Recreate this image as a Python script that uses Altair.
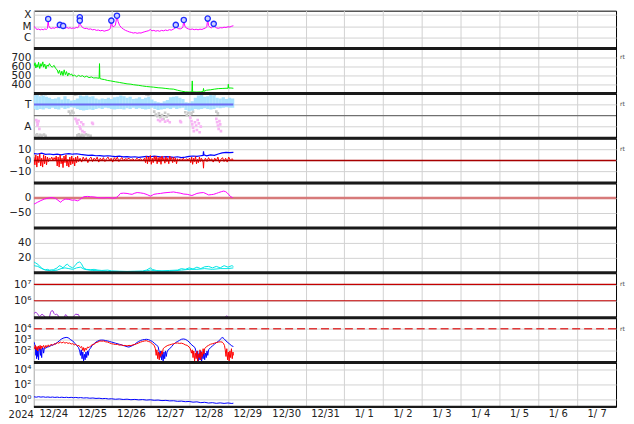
import altair as alt
import pandas as pd

W, H, H1 = 584, 44.5, 38
FONT = "DejaVu Sans"

day_labels = ["12/24", "12/25", "12/26", "12/27", "12/28", "12/29", "12/30", "12/31",
              "1/ 1", "1/ 2", "1/ 3", "1/ 4", "1/ 5", "1/ 6", "1/ 7"]
year_label = "2024"

# ---- panel 1: X-ray flux (log10 W/m2), time in days from 12/24 00:00
xray = [(0.00,-5.00),(0.02,-5.10),(0.05,-5.22),(0.08,-5.30),(0.12,-5.26),(0.16,-5.34),(0.20,-5.28),(0.24,-5.33),
        (0.28,-5.25),(0.32,-5.30),(0.35,-5.20),(0.368,-4.40),(0.38,-4.95),(0.41,-5.15),(0.45,-5.22),(0.49,-5.15),
        (0.53,-5.20),(0.57,-5.10),(0.61,-5.14),(0.64,-5.05),(0.668,-4.93),(0.69,-5.08),(0.72,-5.12),(0.753,-5.00),
        (0.77,-5.12),(0.81,-5.18),(0.85,-5.12),(0.89,-5.20),(0.93,-5.14),(0.97,-5.22),(1.01,-5.16),(1.05,-5.20),
        (1.09,-5.12),(1.13,-5.15),(1.16,-5.00),(1.182,-4.24),(1.20,-4.85),(1.23,-5.05),(1.27,-5.15),(1.31,-5.22),
        (1.36,-5.20),(1.41,-5.28),(1.46,-5.25),(1.51,-5.33),(1.56,-5.30),(1.61,-5.38),(1.66,-5.35),(1.71,-5.42),
        (1.76,-5.38),(1.81,-5.45),(1.86,-5.40),(1.91,-5.36),(1.95,-5.30),(1.975,-5.15),(1.995,-4.53),(2.02,-5.00),
        (2.06,-5.05),(2.10,-4.90),(2.14,-4.09),(2.17,-4.60),(2.21,-4.95),(2.26,-5.15),(2.31,-5.28),(2.36,-5.38),
        (2.41,-5.45),(2.46,-5.52),(2.51,-5.56),(2.56,-5.62),(2.61,-5.58),(2.66,-5.64),(2.71,-5.60),(2.76,-5.62),
        (2.81,-5.55),(2.86,-5.50),(2.91,-5.45),(2.96,-5.40),(3.00,-5.30),(3.04,-5.42),(3.09,-5.38),(3.14,-5.45),
        (3.19,-5.40),(3.24,-5.46),(3.29,-5.38),(3.34,-5.42),(3.39,-5.35),(3.44,-5.40),(3.49,-5.32),(3.54,-5.36),
        (3.59,-5.28),(3.63,-5.20),(3.656,-4.91),(3.68,-5.12),(3.72,-5.22),(3.77,-5.25),(3.81,-5.20),(3.84,-5.05),
        (3.862,-4.47),(3.89,-5.00),(3.93,-5.18),(3.98,-5.25),(4.03,-5.30),(4.08,-5.26),(4.13,-5.32),(4.18,-5.28),
        (4.23,-5.33),(4.28,-5.27),(4.33,-5.30),(4.38,-5.22),(4.42,-5.18),(4.455,-5.05),(4.478,-4.35),(4.50,-4.95),
        (4.54,-5.12),(4.58,-5.15),(4.61,-5.05),(4.633,-4.82),(4.66,-5.05),(4.70,-5.15),(4.75,-5.20),(4.80,-5.14),
        (4.85,-5.16),(4.90,-5.10),(4.95,-5.12),(5.00,-5.06),(5.05,-5.08),(5.10,-5.00),(5.14,-4.97)]
flares = [(0.368,-4.36),(0.668,-4.89),(0.753,-4.98),(1.182,-4.22),(1.182,-4.51),(1.995,-4.51),
          (2.14,-4.07),(3.656,-4.89),(3.862,-4.45),(4.478,-4.33),(4.633,-4.80)]

# ---- panel 2: solar wind speed (km/s)
speed = [(0.00,600),(0.03,640),(0.05,580),(0.08,620),(0.10,590),(0.12,645),(0.15,575),(0.18,630),(0.20,600),
         (0.23,650),(0.25,590),(0.28,625),(0.31,570),(0.34,615),(0.37,600),(0.40,630),(0.43,605),(0.47,590),
         (0.52,610),(0.56,575),(0.60,560),(0.63,520),(0.66,555),(0.69,500),(0.72,545),(0.75,495),(0.78,560),
         (0.81,505),(0.84,540),(0.87,490),(0.90,525),(0.94,500),(0.97,515),(1.00,490),(1.05,500),(1.10,482),
         (1.15,498),(1.20,486),(1.25,494),(1.30,478),(1.36,488),(1.42,472),(1.48,480),(1.54,468),(1.60,470),
         (1.68,465),(1.69,630),(1.70,462),(1.75,455),(1.82,450),(1.90,440),(1.98,435),(2.10,425),(2.20,418),
         (2.30,410),(2.40,402),(2.50,398),(2.57,392),(2.70,385),(2.80,378),(2.90,372),(3.00,368),(3.08,365),
         (3.20,358),(3.30,355),(3.40,350),(3.50,345),(3.60,342),(3.70,330),(3.80,320),(3.90,312),(4.00,310),
         (4.07,312),(4.08,435),(4.09,312),(4.20,310),(4.30,312),(4.36,315),(4.37,350),(4.38,318),(4.45,330),
         (4.55,335),(4.65,342),(4.75,348),(4.85,350),(4.95,352),(5.00,352),(5.01,397),(5.02,355),(5.08,355),
         (5.14,352)]

# ---- panel 3: IMF sector (T=3, A=1): cyan band (t, lo, hi), gray and pink samples
sector_band = [(0.00,2.6,3.8),(0.08,2.5,3.85),(0.16,2.6,3.75),(0.24,2.55,3.8),(0.32,2.65,3.7),(0.40,2.6,3.6),
               (0.48,2.7,3.5),(0.56,2.6,3.55),(0.64,2.55,3.65),(0.72,2.7,3.45),(0.80,2.6,3.75),(0.88,2.65,3.5),
               (0.96,2.75,3.35),(1.04,2.7,3.4),(1.12,2.6,3.55),(1.20,2.5,3.8),(1.28,2.45,3.75),(1.36,2.5,3.8),
               (1.44,2.55,3.7),(1.52,2.5,3.75),(1.60,2.6,3.55),(1.68,2.65,3.45),(1.76,2.6,3.55),(1.84,2.7,3.5),
               (1.92,2.65,3.6),(2.00,2.6,3.5),(2.08,2.55,3.65),(2.16,2.6,3.7),(2.24,2.6,3.8),(2.32,2.55,3.75),
               (2.40,2.65,3.6),(2.48,2.6,3.7),(2.56,2.7,3.5),(2.64,2.6,3.55),(2.72,2.65,3.65),(2.80,2.6,3.5),
               (2.88,2.55,3.6),(2.96,2.6,3.7),(3.04,2.7,3.45),(3.12,2.6,3.3),(3.20,2.5,3.2),(3.28,2.55,3.15),
               (3.36,2.6,3.3),(3.44,2.65,3.4),(3.52,2.6,3.65),(3.60,2.7,3.7),(3.68,2.6,3.75),(3.76,2.65,3.6),
               (3.84,2.7,3.5),(3.92,2.5,3.2),(4.00,2.4,3.15),(4.08,2.45,3.3),(4.16,2.6,3.6),(4.24,2.55,3.8),
               (4.32,2.6,3.85),(4.40,2.65,3.7),(4.48,2.6,3.75),(4.56,2.55,3.9),(4.64,2.6,3.8),(4.72,2.7,3.6),
               (4.80,2.65,3.55),(4.88,2.7,3.65),(4.96,2.75,3.5),(5.04,2.7,3.6),(5.12,2.7,3.55)]
sector_gray = [(0.04,0.22),(0.08,0.3),(0.12,0.18),(0.16,0.26),(0.2,0.2),(0.26,0.28),(0.3,0.18),(1.12,0.22),
               (1.16,0.3),(1.2,0.18),(1.24,0.26),(1.28,0.2),(1.34,0.3),(1.4,0.24),(1.46,0.18),(0.02,3.85),
               (0.1,3.9),(0.2,3.88),(0.3,3.92),(0.9,2.35),(0.94,2.2),(0.98,2.4),(1.02,2.25),(1.06,3.88),
               (1.1,3.92),(2.9,3.9),(2.95,3.86),(3.1,2.35),(3.14,2.1),(3.18,1.95),(3.22,2.2),(3.26,1.85),
               (3.3,2.05),(3.34,1.7),(3.38,2.25),(3.42,1.9),(3.46,2.1),(3.9,2.3),(3.94,2.05),(3.98,2.25),
               (4.02,1.95),(4.06,2.2),(4.1,2.35),(4.62,3.95),(4.66,3.9),(4.7,2.35),(4.74,2.2)]
sector_pink = [(0.06,1.6),(0.08,1.4),(0.1,1.25),(0.12,1.5),(0.09,1.1),(0.14,0.8),(1.07,1.7),(1.1,1.5),
               (1.12,1.3),(1.15,1.6),(1.18,1.0),(1.2,0.8),(1.22,1.4),(1.25,0.6),(1.27,1.2),(1.3,0.5),
               (1.5,1.35),(1.52,1.25),(3.2,1.6),(3.25,1.5),(3.3,1.65),(3.38,1.45),(3.45,1.55),(3.5,1.4),
               (3.77,1.5),(3.79,1.4),(4.03,1.8),(4.06,1.5),(4.08,1.2),(4.1,0.9),(4.12,0.6),(4.15,1.4),
               (4.18,1.1),(4.2,0.7),(4.22,1.6),(4.25,1.3),(4.27,0.5),(4.3,1.0),(4.7,1.7),(4.72,1.4),
               (4.74,1.1),(4.76,0.8),(4.78,1.5),(4.8,1.2),(4.82,0.6)]
sector_toward = [(0.0,3.0),(5.14,3.0)]

# ---- panel 4: IMF Bt (blue) and Bz (red), nT
bt = [(0.0,6.2),(0.1,5.8),(0.2,6.5),(0.3,5.5),(0.4,5.8),(0.5,5.2),(0.6,5.6),(0.7,5.0),(0.8,5.8),(0.9,6.2),
      (1.0,5.6),(1.1,6.0),(1.2,5.4),(1.3,5.0),(1.4,4.6),(1.5,4.8),(1.6,4.2),(1.7,4.4),(1.8,3.9),(1.9,4.2),
      (2.0,3.8),(2.1,3.5),(2.2,3.8),(2.3,3.2),(2.4,3.4),(2.5,3.0),(2.6,3.3),(2.7,2.8),(2.8,3.2),(2.9,3.6),
      (3.0,3.3),(3.1,3.8),(3.2,3.4),(3.3,3.0),(3.4,3.5),(3.5,3.2),(3.6,2.8),(3.7,3.3),(3.8,2.6),(3.9,3.0),
      (4.0,3.6),(4.1,4.0),(4.2,3.6),(4.3,4.2),(4.36,4.5),(4.37,8.2),(4.38,5.0),(4.45,4.2),(4.55,5.0),
      (4.65,4.6),(4.75,5.8),(4.85,6.8),(4.95,7.2),(5.05,7.0),(5.14,7.3)]
bz = [(0.000,3),(0.025,-4),(0.050,5),(0.075,-6),(0.100,4),(0.125,-2),(0.150,6),(0.175,-5),(0.200,2),
      (0.225,-6),(0.250,5),(0.275,-3),(0.300,4),(0.325,-4),(0.350,3),(0.375,-1),(0.400,2),(0.43,1),(0.46,3),
      (0.49,0),(0.52,2.5),(0.55,0.5),(0.575,4),(0.60,-5),(0.625,3),(0.65,-6),(0.675,5),(0.70,-3),(0.725,2),
      (0.75,-6.5),(0.775,4),(0.80,-2),(0.825,5),(0.85,-5),(0.875,1),(0.90,-6),(0.925,3),(0.95,-4),(0.975,4),
      (1.00,-3),(1.025,2),(1.05,-5),(1.075,3),(1.10,-2),(1.125,4),(1.15,-1),(1.19,2),(1.23,-1.5),(1.27,3),
      (1.31,0),(1.35,2.5),(1.39,-2),(1.43,1.5),(1.47,3),(1.51,-1),(1.55,2),(1.59,0.5),(1.63,3),(1.67,-1.5),
      (1.71,2),(1.75,0),(1.79,2.5),(1.83,-1),(1.87,1.5),(1.91,3),(1.95,0),(1.99,2),(2.03,-1.5),(2.07,2.5),
      (2.11,0.5),(2.15,3),(2.19,-1),(2.23,1.5),(2.27,2.5),(2.31,-0.5),(2.35,1.5),(2.40,1),(2.45,2),(2.50,0),
      (2.55,1.5),(2.60,-0.5),(2.65,2),(2.70,0.5),(2.75,1.5),(2.80,-0.5),(2.85,2),(2.875,-2),(2.90,4),
      (2.925,-3),(2.95,3),(2.975,-1),(3.00,4.5),(3.025,-3.5),(3.05,2),(3.075,-2),(3.10,3.5),(3.125,0),
      (3.15,4),(3.175,-3),(3.20,2.5),(3.225,-1.5),(3.25,3),(3.275,-3.5),(3.30,4),(3.325,0),(3.35,2),
      (3.375,-2.5),(3.40,3.5),(3.425,-1),(3.45,2),(3.475,-3),(3.50,4),(3.525,0.5),(3.55,2.5),(3.575,-2),
      (3.60,3),(3.625,-1),(3.65,2),(3.675,-3),(3.70,1.5),(3.725,0),(3.77,1.5),(3.81,0),(3.85,2),(3.89,-0.5),
      (3.93,1.5),(3.97,0.5),(4.01,2),(4.04,-2),(4.065,3),(4.09,-3.5),(4.115,2),(4.14,-1),(4.165,3.5),
      (4.19,-3),(4.215,1),(4.24,-2),(4.265,3),(4.29,-1),(4.315,2),(4.34,0.5),(4.36,-2),(4.37,-7),(4.38,-1),
      (4.42,2),(4.46,-1),(4.50,2.5),(4.54,0),(4.58,1.5),(4.62,-1.5),(4.66,2),(4.70,-0.5),(4.74,3),(4.78,-2),
      (4.82,1),(4.86,2.5),(4.90,-1),(4.94,2),(4.98,-1.5),(5.02,3),(5.06,0),(5.10,1.5),(5.14,0.5)]

# ---- panel 5: Dst (nT)
dst = [(0.00,-21),(0.05,-18),(0.09,-15),(0.18,-9),(0.27,-4),(0.36,-1),(0.44,1),(0.50,0),(0.56,-2),(0.62,-8),
       (0.69,-15),(0.73,-9),(0.78,-6),(0.82,-4),(0.90,-5),(0.99,-8),(1.05,-7),(1.12,-10),(1.17,-7),(1.21,-3),
       (1.29,4),(1.38,5),(1.46,4),(1.55,3),(1.64,1),(1.72,0),(1.81,0),(1.90,1),(1.98,0),(2.06,-1),(2.12,1),
       (2.17,6),(2.23,15),(2.31,16),(2.40,15),(2.47,13),(2.53,12),(2.60,16),(2.66,18),(2.74,17),(2.83,15),
       (2.92,11),(3.00,6),(3.05,9),(3.09,12),(3.18,14),(3.26,15),(3.35,17),(3.43,18),(3.52,19),(3.60,20),
       (3.68,18),(3.77,16),(3.86,13),(3.95,12),(4.01,10),(4.07,8),(4.13,11),(4.20,15),(4.28,17),(4.37,18),
       (4.44,14),(4.50,10),(4.57,11),(4.63,12),(4.70,15),(4.76,18),(4.83,21),(4.89,23),(4.94,21),(4.98,17),
       (5.03,10),(5.07,4),(5.12,1)]

# ---- panel 6: two cyan series
cyan_a = [(0.0,14),(0.05,12.5),(0.1,11),(0.15,8),(0.2,6),(0.25,4),(0.3,3.5),(0.35,4),(0.4,3),(0.5,3.5),
          (0.6,6),(0.65,9),(0.7,8),(0.75,6),(0.8,9),(0.86,11),(0.92,8),(1.0,6),(1.06,9),(1.12,13),(1.18,14),
          (1.22,12),(1.28,6),(1.35,4),(1.45,3.5),(1.55,4),(1.65,3),(1.75,2.5),(1.9,3),(2.0,2),(2.2,1.5),
          (2.4,1.2),(2.6,1.5),(2.8,1.8),(2.9,3),(3.0,6),(3.05,4),(3.15,2.5),(3.3,2),(3.5,2.5),(3.7,3),
          (3.8,5),(3.9,4),(4.0,6),(4.1,4.5),(4.2,7),(4.3,5),(4.4,7.5),(4.5,8),(4.6,6),(4.7,8),(4.8,6),
          (4.9,9),(5.0,7),(5.1,9),(5.14,8)]
cyan_b = [(0.0,9),(0.1,8),(0.2,5),(0.3,3),(0.45,2),(0.6,3),(0.7,5),(0.8,6),(0.9,5),(1.0,4),(1.1,6),
          (1.2,7),(1.3,4),(1.5,2.5),(1.7,2),(2.0,1),(2.4,0.5),(2.8,1),(3.0,3),(3.2,1.5),(3.5,1.5),(3.8,3),
          (4.0,4),(4.2,4),(4.4,5),(4.6,4),(4.8,5),(5.0,5),(5.14,6)]

# ---- panel 7: purple flux (log10)
purple = [(0.00,5.2),(0.03,5.3),(0.06,5.28),(0.09,5.22),(0.12,5.1),(0.15,5.05),(0.18,5.12),(0.21,5.18),
          (0.24,5.12),(0.27,5.08),(0.30,4.9),(0.36,4.85),(0.40,5.0),(0.43,5.3),(0.46,5.4),(0.49,5.38),
          (0.52,5.22),(0.55,5.15),(0.58,5.18),(0.62,5.12),(0.66,4.95),(0.72,4.85),(0.78,4.95),(0.81,5.15),
          (0.84,5.12),(0.87,5.0),(0.93,4.85),(0.99,4.9),(1.04,5.1),(1.08,5.2),(1.11,5.15),(1.14,5.18),
          (1.17,5.05),(1.21,4.85),(1.5,4.7),(2.0,4.6),(2.5,4.6),(3.0,4.5),(3.5,4.6),(4.0,4.6),(4.5,4.7),
          (4.9,4.9),(4.96,5.08),(4.99,5.05),(5.03,4.9),(5.14,4.8)]

# ---- panel 8: blue and red flux (log10)
flux_blue = [(0.00,2.8),(0.02,2.6),(0.04,2.3),(0.05,1.6),(0.06,2.2),(0.07,1.3),(0.08,2.1),(0.09,1.5),(0.10,2.3),
             (0.12,1.2),(0.13,2.0),(0.15,2.3),(0.17,1.6),(0.18,2.2),(0.20,1.4),(0.21,2.1),(0.23,2.3),(0.25,1.8),
             (0.27,2.3),(0.30,2.25),(0.35,2.35),(0.40,2.4),(0.45,2.5),(0.50,2.55),(0.55,2.65),(0.60,2.75),
             (0.65,2.9),(0.70,3.05),(0.75,3.15),(0.80,3.2),(0.85,3.22),(0.90,3.15),(0.95,3.0),(1.00,2.9),
             (1.05,2.7),(1.10,2.5),(1.15,2.3),(1.18,2.0),(1.20,1.6),(1.22,2.1),(1.24,1.3),(1.26,1.9),(1.28,1.1),
             (1.30,1.7),(1.32,1.2),(1.34,1.9),(1.36,1.4),(1.38,2.0),(1.40,1.6),(1.42,2.1),(1.45,2.2),(1.50,2.5),
             (1.55,2.65),(1.60,2.8),(1.65,2.9),(1.70,2.97),(1.75,2.98),(1.80,2.97),(1.85,2.93),(1.90,2.9),
             (1.95,2.85),(2.00,2.8),(2.10,2.7),(2.20,2.6),(2.30,2.5),(2.40,2.38),(2.45,2.35),(2.50,2.42),
             (2.55,2.5),(2.60,2.6),(2.65,2.75),(2.70,2.85),(2.75,2.95),(2.80,3.0),(2.85,3.03),(2.90,3.05),
             (2.95,3.02),(3.00,2.95),(3.05,2.85),(3.10,2.7),(3.15,2.55),(3.20,2.4),(3.23,1.9),(3.25,1.4),
             (3.27,2.0),(3.29,1.2),(3.31,1.8),(3.33,1.1),(3.35,1.9),(3.37,1.3),(3.39,2.0),(3.41,1.5),(3.43,1.9),
             (3.46,2.1),(3.50,2.2),(3.55,2.4),(3.60,2.6),(3.65,2.75),(3.70,2.85),(3.75,2.95),(3.80,3.05),
             (3.85,3.08),(3.90,3.05),(3.95,2.95),(4.00,2.8),(4.05,2.6),(4.10,2.45),(4.15,2.3),(4.18,1.9),
             (4.20,1.4),(4.22,2.0),(4.24,1.1),(4.26,1.8),(4.28,1.2),(4.30,2.0),(4.32,1.0),(4.34,1.7),(4.36,1.3),
             (4.38,2.0),(4.40,1.2),(4.42,1.8),(4.44,1.4),(4.46,2.0),(4.48,1.6),(4.50,2.1),(4.55,2.3),(4.60,2.45),
             (4.65,2.6),(4.70,2.75),(4.75,2.85),(4.80,3.05),(4.84,3.18),(4.87,3.2),(4.90,3.1),(4.95,2.9),
             (5.00,2.75),(5.05,2.6),(5.10,2.45),(5.14,2.4)]
flux_red = [(0.00,2.4),(0.02,2.2),(0.04,2.5),(0.06,2.1),(0.08,2.4),(0.10,2.0),(0.12,2.45),(0.14,2.2),(0.16,2.5),
            (0.18,2.15),(0.20,2.45),(0.22,2.3),(0.25,2.5),(0.28,2.25),(0.31,2.5),(0.34,2.35),(0.37,2.55),
            (0.40,2.4),(0.44,2.6),(0.48,2.5),(0.52,2.65),(0.56,2.6),(0.60,2.75),(0.64,2.7),(0.68,2.8),
            (0.72,2.72),(0.76,2.8),(0.80,2.7),(0.84,2.76),(0.88,2.68),(0.92,2.72),(0.96,2.62),(1.00,2.66),
            (1.04,2.55),(1.08,2.6),(1.12,2.45),(1.16,2.5),(1.20,2.3),(1.23,2.4),(1.26,2.05),(1.28,2.3),
            (1.30,1.95),(1.32,2.25),(1.35,2.1),(1.38,2.35),(1.42,2.3),(1.46,2.45),(1.50,2.55),(1.55,2.6),
            (1.60,2.75),(1.65,2.8),(1.70,2.9),(1.75,2.88),(1.80,2.9),(1.85,2.82),(1.90,2.8),(1.95,2.72),
            (2.00,2.65),(2.05,2.62),(2.10,2.58),(2.15,2.6),(2.20,2.52),(2.25,2.55),(2.30,2.48),(2.35,2.5),
            (2.40,2.45),(2.45,2.5),(2.50,2.48),(2.55,2.55),(2.60,2.58),(2.65,2.65),(2.70,2.72),(2.75,2.8),
            (2.80,2.85),(2.85,2.9),(2.90,2.92),(2.95,2.85),(3.00,2.8),(3.05,2.65),(3.10,2.5),(3.13,2.2),
            (3.15,1.6),(3.17,2.1),(3.19,1.3),(3.21,1.9),(3.23,1.2),(3.25,1.8),(3.27,1.5),(3.29,2.0),(3.31,1.7),
            (3.33,2.2),(3.36,2.3),(3.40,2.4),(3.45,2.5),(3.50,2.55),(3.55,2.6),(3.60,2.65),(3.65,2.7),
            (3.70,2.72),(3.75,2.68),(3.80,2.7),(3.85,2.65),(3.90,2.55),(3.95,2.5),(4.00,2.35),(4.03,2.2),
            (4.06,1.8),(4.08,2.1),(4.10,1.4),(4.12,2.0),(4.14,1.1),(4.16,1.8),(4.18,1.3),(4.20,2.0),(4.22,1.0),
            (4.24,1.7),(4.26,1.4),(4.28,2.1),(4.30,1.2),(4.32,1.9),(4.34,1.5),(4.36,2.2),(4.38,1.7),(4.40,2.2),
            (4.45,2.4),(4.50,2.5),(4.55,2.6),(4.60,2.65),(4.65,2.7),(4.70,2.75),(4.75,2.8),(4.80,2.82),
            (4.85,2.8),(4.88,2.7),(4.91,2.5),(4.93,2.1),(4.95,1.5),(4.97,2.2),(4.99,1.2),(5.01,1.9),(5.03,1.1),
            (5.05,2.0),(5.07,1.4),(5.09,2.2),(5.11,1.3),(5.13,1.9),(5.14,1.6)]

# ---- panel 9: blue flux (log10)
flux_low = [(0.00,0.37),(0.06,0.31),(0.12,0.38),(0.18,0.32),(0.24,0.36),(0.30,0.30),(0.36,0.34),(0.42,0.29),
            (0.48,0.33),(0.54,0.28),(0.60,0.32),(0.66,0.27),(0.72,0.31),(0.78,0.26),(0.84,0.30),(0.90,0.25),
            (0.96,0.29),(1.02,0.24),(1.08,0.28),(1.14,0.22),(1.20,0.26),(1.28,0.2),(1.36,0.23),(1.44,0.17),
            (1.52,0.2),(1.60,0.14),(1.68,0.17),(1.76,0.11),(1.84,0.14),(1.92,0.07),(2.00,0.1),(2.10,0.03),
            (2.20,0.07),(2.30,0.0),(2.40,0.04),(2.50,-0.03),(2.60,0.01),(2.70,-0.05),(2.80,-0.01),(2.90,-0.08),
            (3.00,-0.04),(3.10,-0.11),(3.20,-0.08),(3.30,-0.15),(3.40,-0.12),(3.50,-0.19),(3.60,-0.17),
            (3.70,-0.25),(3.80,-0.22),(3.90,-0.3),(4.00,-0.27),(4.10,-0.36),(4.20,-0.32),(4.30,-0.43),
            (4.40,-0.38),(4.50,-0.48),(4.60,-0.43),(4.70,-0.52),(4.80,-0.46),(4.90,-0.53),(5.00,-0.47),
            (5.10,-0.54),(5.14,-0.5)]

SUP = "['⁰','¹','²','³','⁴','⁵','⁶','⁷','⁸']"


def df2(pairs):
    return pd.DataFrame(pairs, columns=["t", "v"])


def xenc(bottom=False):
    if bottom:
        expr = "[" + ",".join("'%s'" % s for s in day_labels) + "][datum.value]"
        axis = alt.Axis(values=list(range(15)), labelExpr=expr, labelOffset=19.47, grid=True,
                        ticks=False, domain=False, labelPadding=2, labelFontSize=10, title=None,
                        labelAngle=0, labelFlush=False, labelOverlap=False)
    else:
        axis = alt.Axis(values=list(range(15)), labels=False, ticks=False, domain=False,
                        grid=True, title=None, minExtent=0, maxExtent=0, labelPadding=0)
    return alt.X("t:Q", scale=alt.Scale(domain=[0, 15], nice=False, zero=False), axis=axis)


def yenc(domain, values, expr=None, field="v"):
    ax = dict(values=values, grid=True, title=None, labelOverlap=False, labelBound=False, labelFlush=False)
    if expr:
        ax["labelExpr"] = expr
    return alt.Y(field + ":Q", scale=alt.Scale(domain=domain, nice=False, zero=False), axis=alt.Axis(**ax))


one = pd.DataFrame({"k": [0]})


def sep():
    return alt.Chart(one).mark_rule(color="#1a1a1a", strokeWidth=3).encode(
        x=alt.value(0), x2=alt.value(W), y=alt.value(0))


def rt(val, Y):
    return alt.Chart(pd.DataFrame({"v": [val]})).mark_text(
        text="rt", align="left", baseline="middle", fontSize=6, color="#444", font=FONT
    ).encode(x=alt.value(W + 4), y=Y)


def hline(val, Y, color, width=1.0, dash=None):
    kw = dict(color=color, strokeWidth=width)
    if dash:
        kw["strokeDash"] = dash
    return alt.Chart(pd.DataFrame({"v": [val]})).mark_rule(**kw).encode(y=Y)


def line(data, Y, color, width=1.0, bottom=False):
    return alt.Chart(df2(data)).mark_line(color=color, strokeWidth=width, clip=True).encode(
        x=xenc(bottom), y=Y)


# panel 1
Y1 = yenc([-7, -7 + H1 / 11.25], [-6, -5, -4], "datum.value == -4 ? 'X' : datum.value == -5 ? 'M' : 'C'")
p1 = alt.layer(
    line(xray, Y1, "#ff00ff", 1.0),
    alt.Chart(df2(flares)).mark_point(shape="circle", filled=True, fill="#cdd3ff", stroke="#1f2bff",
                                      strokeWidth=1.3, size=28, opacity=1, clip=True).encode(x=xenc(), y=Y1),
).properties(width=W, height=H1)

# panel 2
Y2 = yenc([300, 800], [400, 500, 600, 700])
p2 = alt.layer(line(speed, Y2, "#00ee00", 1.0), sep(), rt(700, Y2)).properties(width=W, height=H)

# panel 3
Y3 = yenc([0, 4], [1, 3], "datum.value == 3 ? 'T' : 'A'")
band_df = pd.DataFrame(sector_band, columns=["t", "v", "v2"])
p3 = alt.layer(
    hline(2, Y3, "#707070", 1.2),
    alt.Chart(df2(sector_gray)).mark_square(size=7, color="#cacaca", opacity=1, clip=True).encode(x=xenc(), y=Y3),
    alt.Chart(band_df).mark_rule(color="#abe3ff", strokeWidth=3.3, opacity=1, clip=True).encode(
        x=xenc(), y=Y3, y2=alt.Y2("v2:Q")),
    alt.Chart(df2(sector_pink)).mark_square(size=7, color="#f7b4f4", opacity=1, clip=True).encode(x=xenc(), y=Y3),
    line(sector_toward, Y3, "#6b6bf2", 2.0),
    sep(), rt(3, Y3),
).properties(width=W, height=H)

# panel 4
Y4 = yenc([-20, 20], [-10, 0, 10])
p4 = alt.layer(
    line(bt, Y4, "#0000ff", 1.2),
    line(bz, Y4, "#ff0000", 1.0),
    hline(0, Y4, "#a80000", 1.5),
    sep(), rt(10, Y4),
).properties(width=W, height=H)

# panel 5
Y5 = yenc([-100, 50], [-50, 0])
p5 = alt.layer(
    hline(0, Y5, "#d77a7a", 2.5),
    line(dst, Y5, "#ff00ff", 1.0),
    sep(),
).properties(width=W, height=H)

# panel 6
Y6 = yenc([0, 60], [20, 40])
p6 = alt.layer(
    line(cyan_b, Y6, "#00e5e5", 1.0),
    line(cyan_a, Y6, "#00e5e5", 1.0),
    sep(),
).properties(width=W, height=H)

# panel 7
Y7 = yenc([5.0, 7.7], [6, 7], "'10' + " + SUP + "[datum.value]")
p7 = alt.layer(
    hline(7, Y7, "#c40000", 1.2),
    hline(6, Y7, "#c40000", 1.2),
    line(purple, Y7, "#a235d8", 1.0),
    sep(), rt(7, Y7),
).properties(width=W, height=H)

# panel 8
Y8 = yenc([1, 5], [2, 3, 4], "'10' + " + SUP + "[datum.value]")
p8 = alt.layer(
    hline(4, Y8, "#e03a3a", 1.5, [8, 4]),
    line(flux_blue, Y8, "#0000ff", 1.0),
    line(flux_red, Y8, "#ff0000", 1.0),
    sep(), rt(4, Y8),
).properties(width=W, height=H)

# panel 9 (bottom, with time axis)
Y9 = yenc([-1, 5], [0, 2, 4], "'10' + " + SUP + "[datum.value]")
p9 = alt.layer(
    line(flux_low, Y9, "#0000ff", 1.0, bottom=True),
    sep(),
    alt.Chart(one).mark_rule(color="#1a1a1a", strokeWidth=2.5).encode(
        x=alt.value(0), x2=alt.value(W), y=alt.value(H)),
    alt.Chart(one).mark_text(text=year_label, align="right", baseline="middle", fontSize=10,
                             font=FONT, color="#222").encode(x=alt.value(0), y=alt.value(H + 8)),
).properties(width=W, height=H)

chart = alt.vconcat(p1, p2, p3, p4, p5, p6, p7, p8, p9, spacing=0, bounds="flush").resolve_scale(
    y="independent"
).properties(
    padding={"left": 0, "top": 0, "right": 0, "bottom": 0}, background="white"
).configure_view(
    stroke="#000000", strokeWidth=1
).configure_axis(
    labelFont=FONT, labelFontSize=10.5, labelColor="#222222", gridColor="#d2d2d2", gridWidth=1,
    ticks=False, domain=False
).configure_axisY(
    minExtent=25, maxExtent=25, labelPadding=3
)

chart.save("out.html", embed_options={"renderer": "svg", "actions": False})
